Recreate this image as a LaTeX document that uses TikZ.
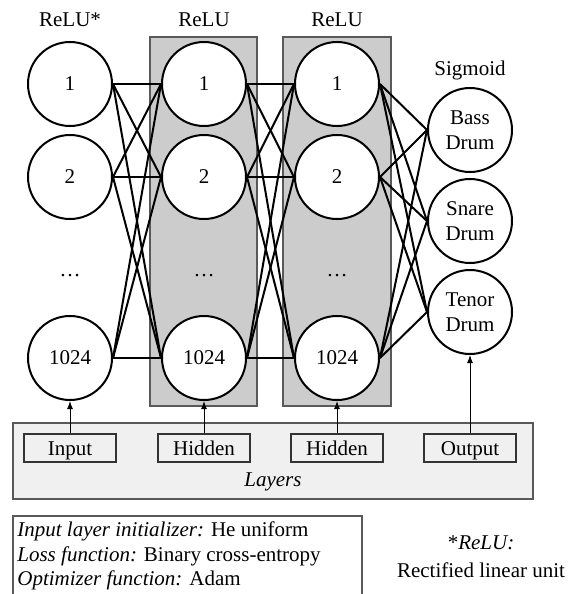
\documentclass[tikz,border=0pt]{standalone}
\usepackage{fontspec}
\setmainfont{Liberation Serif}
\usetikzlibrary{arrows.meta}

\tikzset{
  neuron/.style={circle, draw, line width=1pt, fill=white, minimum size=42pt, inner sep=0pt, align=center},
  layerbox/.style={draw=black!80, line width=1pt, fill=black!6, minimum width=46pt, minimum height=14pt, inner sep=0pt, text height=7.5pt, text depth=0.5pt},
  panel/.style={draw=black!65, line width=1pt},
  link/.style={line width=1pt},
  tag/.style={-{Latex[length=4pt,width=3pt]}, line width=0.5pt},
}

\begin{document}
\begin{tikzpicture}[x=0.5pt, y=-0.5pt, font=\fontsize{10.5}{12.5}\selectfont]
	\useasboundingbox (0,0) rectangle (568,594);
	% shaded hidden layers
	\draw[panel, fill=black!20] (150,37) rectangle (257,406);
	\draw[panel, fill=black!20] (283,37) rectangle (391,406);

	% activation labels
	\node[anchor=base] (acta) at (70,26) {ReLU*};
	\node[anchor=base] (actb) at (204,26) {ReLU};
	\node[anchor=base] (actc) at (337,26) {ReLU};
	\node[anchor=base] (acto) at (470,75) {Sigmoid};

	% neurons, three columns
	\foreach \col/\x in {a/70, b/204, c/337} {
		\node[neuron] (\col1) at (\x,84) {1};
		\node[neuron] (\col2) at (\x,177) {2};
		\node[anchor=base] (\col dots) at (\x,276) {\ldots};
		\node[neuron] (\col3) at (\x,358) {1024};
	}
	\node[neuron] (o1) at (470,130) {Bass\\Drum};
	\node[neuron] (o2) at (470,221) {Snare\\Drum};
	\node[neuron] (o3) at (470,312) {Tenor\\Drum};

	% fully connected
	\foreach \s in {1,2,3}
		\foreach \t in {1,2,3} {
			\draw[link] (a\s.east) -- (b\t.west);
			\draw[link] (b\s.east) -- (c\t.west);
			\draw[link] (c\s.east) -- (o\t.west);
		}

	% layer types
	\draw[panel, fill=black!6] (13,423) rectangle (533,499);
	\node[layerbox] (lin) at (70,448) {Input};
	\node[layerbox] (lhida) at (204,448) {Hidden};
	\node[layerbox] (lhidb) at (337,448) {Hidden};
	\node[layerbox] (lout) at (470,448) {Output};
	\node[anchor=base] (layers) at (273,486) {\textit{Layers}};
	\draw[tag] (lin) -- (a3);
	\draw[tag] (lhida) -- (b3);
	\draw[tag] (lhidb) -- (c3);
	\draw[tag] (lout) -- (o3);

	% training settings
	\draw[panel] (13,516) rectangle (362,620);
	\node[anchor=base west, inner sep=0pt] (init) at (17,536) {\textit{Input layer initializer:} He uniform};
	\node[anchor=base west, inner sep=0pt] (loss) at (17,561) {\textit{Loss function:} Binary cross-entropy};
	\node[anchor=base west, inner sep=0pt] (optim) at (17,585) {\textit{Optimizer function:} Adam};

	\node[anchor=base] (relu) at (481,549) {*\textit{ReLU:}};
	\node[anchor=base] (reludef) at (481,577) {Rectified linear unit};
\end{tikzpicture}
\end{document}
